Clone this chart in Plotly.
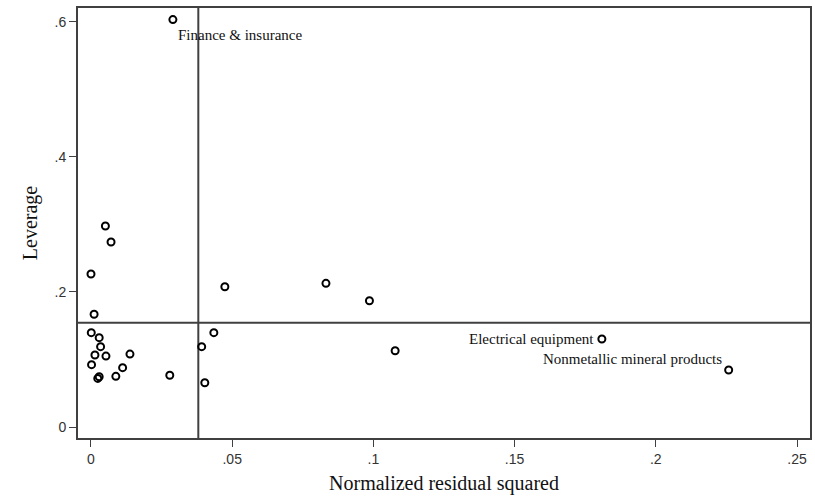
import plotly.graph_objects as go

# Normalized residual squared (x) and leverage (y)
resid_sq = [0.0290, 0.0051, 0.0071, 0.0000, 0.0011, 0.0001, 0.0029, 0.0034,
            0.0014, 0.0053, 0.0002, 0.0138, 0.0112, 0.0088, 0.0024, 0.0029,
            0.0279, 0.0392, 0.0435, 0.0403, 0.0474, 0.0832, 0.0986, 0.1077,
            0.1809, 0.2258]
leverage = [0.6035, 0.2978, 0.2740, 0.2267, 0.1670, 0.1397, 0.1323, 0.1190,
            0.1067, 0.1050, 0.0923, 0.1080, 0.0879, 0.0750, 0.0720, 0.0745,
            0.0766, 0.1190, 0.1397, 0.0656, 0.2078, 0.2128, 0.1871, 0.1130,
            0.1304, 0.0844]
labels = ["Finance & insurance"] + [""] * 23 + ["Electrical equipment", "Nonmetallic mineral products"]

mean_resid_sq = 0.0380
mean_leverage = 0.1545

x_ticks = [0, 0.05, 0.1, 0.15, 0.2, 0.25]
x_tick_text = ["0", ".05", ".1", ".15", ".2", ".25"]
y_ticks = [0, 0.2, 0.4, 0.6]
y_tick_text = ["0", ".2", ".4", ".6"]

# label placement (xanchor, yanchor, xshift, yshift)
label_pos = {
    "Finance & insurance": ("left", "middle", 3, -15),
    "Electrical equipment": ("right", "middle", -6, 0),
    "Nonmetallic mineral products": ("right", "middle", -5, 11),
}

fig = go.Figure()
fig.add_trace(go.Scatter(
    x=resid_sq, y=leverage, mode="markers",
    marker=dict(symbol="circle-open", size=7, color="black", line=dict(width=2, color="black")),
    showlegend=False, hoverinfo="skip",
))

line_col = "#404040"
fig.add_vline(x=mean_resid_sq, line=dict(color=line_col, width=2), layer="below")
fig.add_hline(y=mean_leverage, line=dict(color=line_col, width=2), layer="below")

for xv, yv, lab in zip(resid_sq, leverage, labels):
    if not lab:
        continue
    xa, ya, xs, ys = label_pos[lab]
    fig.add_annotation(x=xv, y=yv, text=lab, showarrow=False,
                       xanchor=xa, yanchor=ya, xshift=xs, yshift=ys,
                       font=dict(family="Liberation Serif", size=15, color="#111111"))

axis_common = dict(
    showgrid=False, zeroline=False, showline=True, linecolor=line_col, linewidth=2,
    mirror=True, ticks="outside", ticklen=7, tickwidth=1, tickcolor=line_col,
    tickfont=dict(family="Liberation Sans", size=14, color="#333333"),
)

fig.update_xaxes(range=[-0.0046, 0.2546], tickvals=x_ticks, ticktext=x_tick_text,
                 title=dict(text="Normalized residual squared",
                            font=dict(family="Liberation Serif", size=20, color="#111111"),
                            standoff=10),
                 **axis_common)
fig.update_yaxes(range=[-0.0163, 0.6207], tickvals=y_ticks, ticktext=y_tick_text,
                 title=dict(text="Leverage",
                            font=dict(family="Liberation Serif", size=20, color="#111111"),
                            standoff=12),
                 **axis_common)

fig.update_layout(
    width=815, height=502,
    margin=dict(l=78, r=3, t=8, b=64),
    paper_bgcolor="white", plot_bgcolor="white",
)

fig.write_html("out.html")
